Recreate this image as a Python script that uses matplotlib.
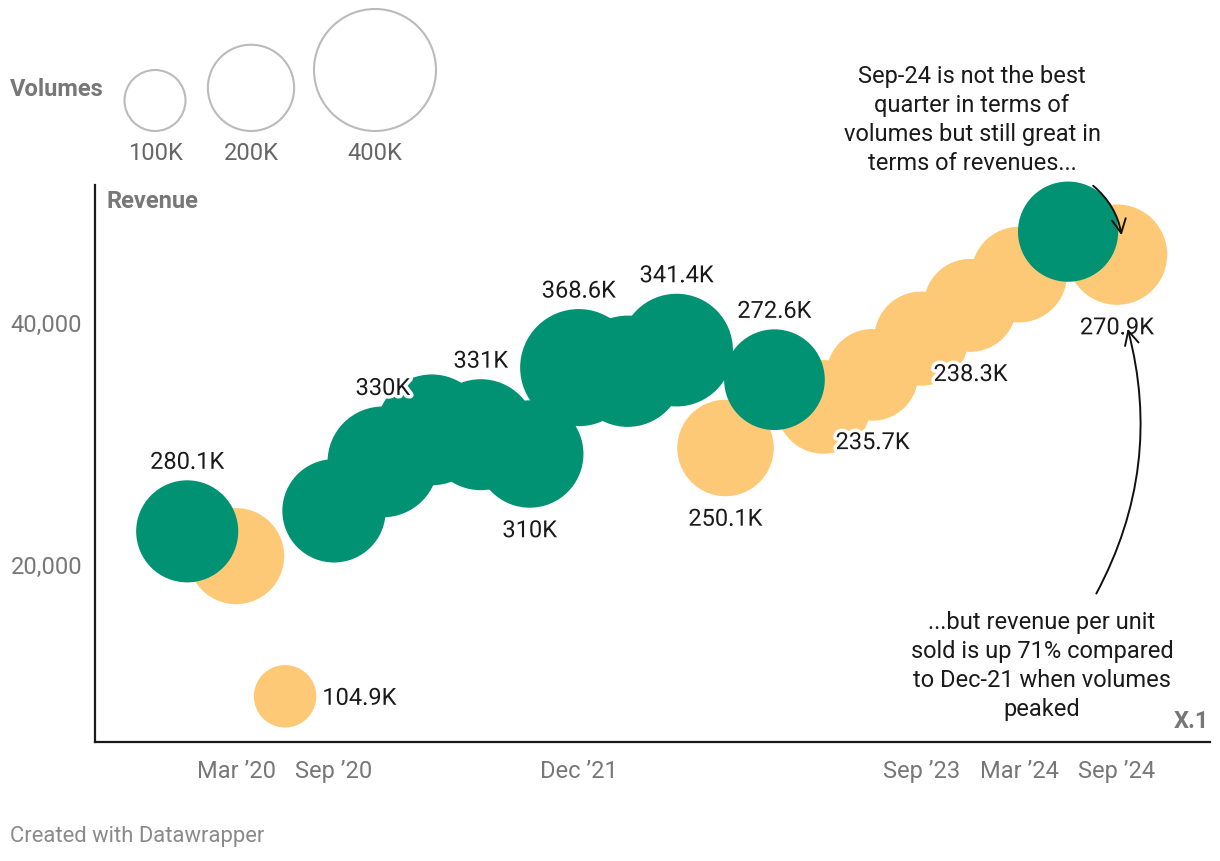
import matplotlib
matplotlib.use("Agg")
import matplotlib.pyplot as plt
import matplotlib.patheffects as pe
from matplotlib.patches import FancyArrowPatch
import numpy as np

plt.rcParams['font.family'] = ['Roboto', 'DejaVu Sans']

# ---------------- data ----------------
quarters = ["Dec ’19", "Mar ’20", "Jun ’20", "Sep ’20", "Dec ’20", "Mar ’21", "Jun ’21",
            "Sep ’21", "Dec ’21", "Mar ’22", "Jun ’22", "Sep ’22", "Dec ’22", "Mar ’23",
            "Jun ’23", "Sep ’23", "Dec ’23", "Mar ’24", "Jun ’24", "Sep ’24"]
revenue = [22700, 20650, 9050, 24400, 28450, 31100, 30700, 29100, 36250, 35950,
           37700, 29600, 35250, 33000, 35650, 38650, 41400, 43950, 47500, 45600]
volume_k = [280.1, 248, 104.9, 287, 330, 330, 331, 310, 368.6, 333,
            341.4, 250.1, 272.6, 235.7, 226, 238.3, 232, 246, 270, 270.9]
group = ["g", "y", "y", "g", "g", "g", "g", "g", "g", "g",
         "g", "y", "g", "y", "y", "y", "y", "y", "g", "y"]
point_labels = ["280.1K", "", "104.9K", "", "330K", "", "331K", "310K", "368.6K", "",
                "341.4K", "250.1K", "272.6K", "235.7K", "", "238.3K", "", "", "", "270.9K"]
label_place = ["top", "", "right", "", "top", "", "top", "bottom", "top", "",
               "top", "bottom", "top", "br", "", "br", "", "", "", "bottom"]
tick_labels = ["Mar ’20", "Sep ’20", "Dec ’21", "Sep ’23", "Mar ’24", "Sep ’24"]
y_ticks = [20000, 40000]
legend_volumes = [100, 200, 400]
legend_labels = ["100K", "200K", "400K"]

colors = {"g": "#009273", "y": "#fec976"}
FS = 17

W, H = 1220, 862
fig = plt.figure(figsize=(W / 100, H / 100), dpi=100)

def fx(x):
    return x / W

def fy(y):
    return 1 - y / H

# radius in px for a volume (100K -> 30.5 px)
def r_px(v):
    return 30.5 * np.sqrt(v / 100.0)

def s_of(v):
    return (2 * r_px(v) * 0.72) ** 2

ax = fig.add_axes([fx(94.7), fy(743.3), fx(1210) - fx(94.7), fy(186) - fy(743.3)])
ax.set_xlim(-1.89, 20.9)
ax.set_ylim(5245, 51362)

x = np.arange(len(quarters))
rev = np.array(revenue)
vol = np.array(volume_k)
sizes = s_of(vol)

# yellow first, green on top
for g in ["y", "g"]:
    m = np.array([gg == g for gg in group])
    ax.scatter(x[m], rev[m], s=sizes[m], color=colors[g], linewidths=0,
               clip_on=False, zorder=2 if g == "y" else 3)

halo = [pe.withStroke(linewidth=5, foreground="white")]
for i, (lab, place) in enumerate(zip(point_labels, label_place)):
    if not lab:
        continue
    r = r_px(vol[i])
    if place == "top":
        off, ha = (0, (r + 18) * 0.72), "center"
    elif place == "bottom":
        off, ha = (0, -(r + 23) * 0.72), "center"
    elif place == "right":
        off, ha = ((r + 6) * 0.72, -2 * 0.72), "left"
    else:  # bottom-right
        off, ha = (r * 0.26 * 0.72, -(r * 0.72 + 2) * 0.72), "left"
    ax.annotate(lab, (x[i], rev[i]), xytext=off, textcoords="offset points",
                ha=ha, va="center", fontsize=FS, color="#1a1a1a",
                path_effects=halo, zorder=5)

# axes styling
for sp in ["top", "right"]:
    ax.spines[sp].set_visible(False)
for sp in ["left", "bottom"]:
    ax.spines[sp].set_linewidth(1.6)
    ax.spines[sp].set_color("#1a1a1a")
tick_idx = [quarters.index(t) for t in tick_labels]
ax.set_xticks(tick_idx)
ax.set_xticklabels(tick_labels)
ax.set_yticks(y_ticks)
ax.set_yticklabels([f"{v:,}" for v in y_ticks])
ax.tick_params(axis="both", length=0, labelsize=FS, colors="#777777")
ax.tick_params(axis="x", pad=12)
ax.tick_params(axis="y", pad=9)
ax.patch.set_alpha(0)

fig.text(fx(107), fy(202), "Revenue", fontsize=FS,
         fontweight="bold", color="#777777", ha="left", va="center")
fig.text(fx(1209), fy(721), "X.1", fontsize=FS,
         fontweight="bold", color="#777777", ha="right", va="center")

# annotations
fig.text(fx(972), fy(120), "Sep-24 is not the best\nquarter in terms of\nvolumes but still great in\nterms of revenues...",
         ha="center", va="center", fontsize=FS, color="#1a1a1a", linespacing=1.34)
fig.text(fx(1042), fy(666), "...but revenue per unit\nsold is up 71% compared\nto Dec-21 when volumes\npeaked",
         ha="center", va="center", fontsize=FS, color="#1a1a1a", linespacing=1.34)

arrow_kw = dict(arrowstyle="->,head_length=0.5,head_width=0.25", color="#111111",
                lw=1.4, mutation_scale=20)
fig.add_artist(FancyArrowPatch(
    (fx(1091), fy(185)), (fx(1122), fy(239)), transform=fig.transFigure,
    connectionstyle="arc3,rad=-0.2", zorder=10, **arrow_kw))
fig.add_artist(FancyArrowPatch(
    (fx(1095), fy(597)), (fx(1127), fy(327)), transform=fig.transFigure,
    connectionstyle="arc3,rad=0.2", zorder=10, **arrow_kw))

# size legend
lax = fig.add_axes([0, 0, 1, 1])
lax.set_xlim(0, W)
lax.set_ylim(H, 0)
lax.axis("off")
lax.patch.set_alpha(0)
leg_x = [155, 251, 375]
base = 132
for lx, v, t in zip(leg_x, legend_volumes, legend_labels):
    r = r_px(v)
    lax.scatter([lx], [base - r], s=s_of(v), facecolor="none", edgecolor="#bbbbbb", linewidths=1.5)
    lax.text(lx, 154, t, ha="center", va="center", fontsize=FS, color="#666666")
lax.text(10, 90, "Volumes", ha="left", va="center", fontsize=FS, fontweight="bold", color="#777777")

fig.text(fx(10), fy(837), "Created with Datawrapper", ha="left", va="center",
         fontsize=15.8, color="#8a8a8a")

fig.savefig("out.png", dpi=100)
